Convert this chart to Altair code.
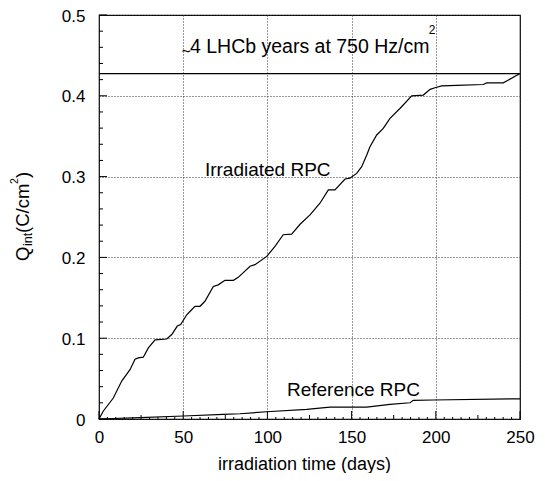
import altair as alt
import pandas as pd

# Irradiated RPC integrated charge (days, C/cm^2)
irr_days = [0, 2.6, 8.5, 13.5, 18.4, 21.4, 23.3, 26.3, 29.3, 33.3, 40.2, 43.2, 46.5, 48.5,
            52.1, 54.0, 57.0, 60.0, 62.9, 67.9, 70.8, 74.8, 79.8, 82.7, 89.7, 92.6, 99.6,
            104.5, 109.4, 114.4, 119.4, 125.3, 131.2, 136.2, 140.1, 146.1, 149.0, 153.0,
            156.0, 159.0, 160.9, 164.9, 168.8, 172.8, 178.7, 185.7, 192.6, 196.6, 199.5,
            203.5, 212.4, 228.2, 230.2, 240.1, 250]
irr_q = [0, 0.0099, 0.026, 0.047, 0.061, 0.074, 0.0757, 0.0765, 0.088, 0.098, 0.099, 0.1046,
         0.115, 0.117, 0.129, 0.133, 0.1395, 0.1395, 0.1457, 0.164, 0.166, 0.1716, 0.1716,
         0.1753, 0.189, 0.191, 0.2012, 0.2136, 0.228, 0.2288, 0.241, 0.2527, 0.267, 0.2836,
         0.2836, 0.297, 0.298, 0.304, 0.3123, 0.3268, 0.337, 0.3515, 0.3596, 0.372, 0.3843,
         0.4, 0.4009, 0.408, 0.41, 0.4123, 0.413, 0.414, 0.416, 0.416, 0.4275]

# Reference RPC
ref_days = [0, 24.3, 50.1, 73.8, 83.7, 99.6, 123.3, 137.2, 159.0, 172.8, 184.7, 186.6, 198.5, 250]
ref_q = [0, 0.0016, 0.0037, 0.0058, 0.0065, 0.009, 0.012, 0.0148, 0.0148, 0.018, 0.0201,
         0.0231, 0.0235, 0.025]

target_q = [0.4275]

x_ticks = [0, 50, 100, 150, 200, 250]
y_ticks = [0, 0.1, 0.2, 0.3, 0.4, 0.5]
x_mid_ticks = [25, 75, 125, 175, 225]
x_minor_ticks = [v for v in range(5, 250, 5) if v % 25 != 0]
y_minor_ticks = [0.02, 0.04, 0.06, 0.08, 0.12, 0.14, 0.16, 0.18, 0.22, 0.24, 0.26, 0.28,
                 0.32, 0.34, 0.36, 0.38, 0.42, 0.44, 0.46, 0.48]

FONT = "Liberation Sans"
W, H = 421, 404

df = pd.concat([
    pd.DataFrame({"days": irr_days, "q": irr_q, "series": "Irradiated RPC"}),
    pd.DataFrame({"days": ref_days, "q": ref_q, "series": "Reference RPC"}),
])

xs = alt.Scale(domain=[0, 250], nice=False, zero=False)
ys = alt.Scale(domain=[0, 0.5], nice=False, zero=False)

xaxis = alt.Axis(values=x_ticks, grid=True, gridDash=[1, 2], gridColor="#333", gridOpacity=1,
                 domain=False, ticks=False, tickSize=0, labelFont=FONT, labelFontSize=17,
                 labelColor="black", labelPadding=10, labelFlush=False,
                 title="irradiation time (days)", titleFont=FONT, titleFontSize=18,
                 titleFontWeight="normal", titleColor="black", titleBaseline="alphabetic",
                 titleY=50, titleX=205, titleAlign="center")
yaxis = alt.Axis(values=y_ticks, format="~g", grid=True, gridDash=[1, 2], gridColor="#333",
                 gridOpacity=1, domain=False, ticks=False, tickSize=0, labelFont=FONT,
                 labelFontSize=17, labelColor="black", labelPadding=14, labelOffset=1,
                 labelFlush=False, title=None)

lines = alt.Chart(df).mark_line(color="black", strokeWidth=1.2).encode(
    x=alt.X("days:Q", scale=xs, axis=xaxis),
    y=alt.Y("q:Q", scale=ys, axis=yaxis),
    detail="series:N",
)

target = alt.Chart(pd.DataFrame({"q": target_q})).mark_rule(color="black", strokeWidth=1.2).encode(
    y=alt.Y("q:Q", scale=ys), x=alt.value(0), x2=alt.value(W))

one = pd.DataFrame({"a": [0]})

def dtext(txt, xd, yd, size, **kw):
    return alt.Chart(pd.DataFrame({"days": [xd], "q": [yd]})).mark_text(
        text=txt, font=FONT, fontSize=size, align="left", baseline="alphabetic",
        color="black", **kw).encode(x=alt.X("days:Q", scale=xs), y=alt.Y("q:Q", scale=ys))

labels = [
    dtext("~", 49.0, 0.448, 16),
    dtext("4 LHCb years at 750 Hz/cm", 54.0, 0.453, 19.5),
    dtext("2", 195.8, 0.476, 12),
    dtext("Irradiated RPC", 62.9, 0.301, 19),
    dtext("Reference RPC", 111.6, 0.0284, 19),
]

def ptext(txt, px, py, size):
    return alt.Chart(one).mark_text(text=txt, font=FONT, fontSize=size, angle=270,
                                    align="left", baseline="alphabetic", color="black").encode(
        x=alt.value(px), y=alt.value(py))

ytitle = [
    ptext("Q", -70, 246, 18.5),
    ptext("int", -67, 231, 12.5),
    ptext("(C/cm", -70, 218, 18.5),
    ptext("2", -81, 169, 10.5),
    ptext(")", -70, 163, 18.5),
]

ytick_major = alt.Chart(pd.DataFrame({"q": y_ticks})).mark_rule(color="black").encode(
    y=alt.Y("q:Q", scale=ys), x=alt.value(0), x2=alt.value(8))
ytick_minor = alt.Chart(pd.DataFrame({"q": y_minor_ticks})).mark_rule(color="black").encode(
    y=alt.Y("q:Q", scale=ys), x=alt.value(0), x2=alt.value(4))
xtick_major = alt.Chart(pd.DataFrame({"days": x_ticks})).mark_rule(color="black").encode(
    x=alt.X("days:Q", scale=xs), y=alt.value(H), y2=alt.value(H - 8))
xtick_mid = alt.Chart(pd.DataFrame({"days": x_mid_ticks})).mark_rule(color="black").encode(
    x=alt.X("days:Q", scale=xs), y=alt.value(H), y2=alt.value(H - 4))
xtick_minor = alt.Chart(pd.DataFrame({"days": x_minor_ticks})).mark_rule(color="black").encode(
    x=alt.X("days:Q", scale=xs), y=alt.value(H), y2=alt.value(H - 2))

chart = alt.layer(
    lines, target, ytick_major, ytick_minor, xtick_major, xtick_mid, xtick_minor,
    *labels, *ytitle
).properties(
    width=W, height=H,
    autosize=alt.AutoSizeParams(type="none"),
    padding={"left": 91, "top": 7, "right": 15, "bottom": 54},
    background="white",
).configure_view(stroke="black", strokeWidth=1.2)

chart.save("out.html", embed_options={"renderer": "svg", "actions": False})
